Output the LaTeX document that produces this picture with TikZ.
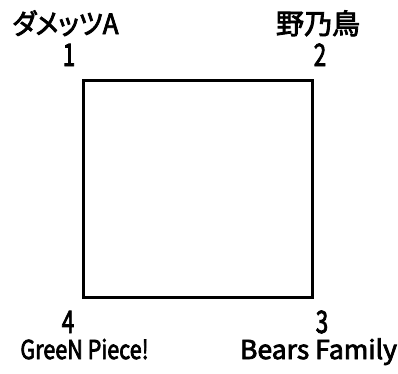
\documentclass[tikz,border=0pt]{standalone}
\usepackage{fontspec}
\setmainfont{Noto Sans CJK JP}[FakeBold=3]
\newfontfamily\jpprop{Noto Sans CJK JP}[RawFeature=+palt, FakeBold=3]
\begin{document}
\begin{tikzpicture}[x=1pt,y=-1pt,
  lbl/.style={inner sep=0pt, anchor=base, text height=18pt, text depth=2pt, font=\fontsize{26}{26}\selectfont, transform shape},
  jp/.style={inner sep=0pt, anchor=base, text height=22pt, text depth=2pt, font=\fontsize{28}{28}\selectfont, transform shape},
  num/.style={inner sep=0pt, anchor=base, text height=22pt, text depth=0pt, font=\fontsize{31}{31}\selectfont, xscale=0.72, transform shape}]
\useasboundingbox (0,0) rectangle (398,373);
\node[draw, line width=2.6pt, minimum width=229pt, minimum height=217pt, inner sep=0pt, anchor=north west] (sq) at (82.3,79.3) {};
\node[jp, xscale=0.93] (t1) at (65.5,34) {\jpprop ダメッツA};
\node[jp, xscale=1.0] (t2) at (318,34) {野乃鳥};
\node[num] (n1) at (69,66) {1};
\node[num] (n2) at (320,66) {2};
\node[num] (n4) at (68,333) {4};
\node[num] (n3) at (322,333) {3};
\node[lbl, xscale=0.83] (t4) at (84.5,359) {GreeN Piece!};
\node[lbl, xscale=1.02] (t3) at (318.5,359) {Bears Family};
\end{tikzpicture}
\end{document}
